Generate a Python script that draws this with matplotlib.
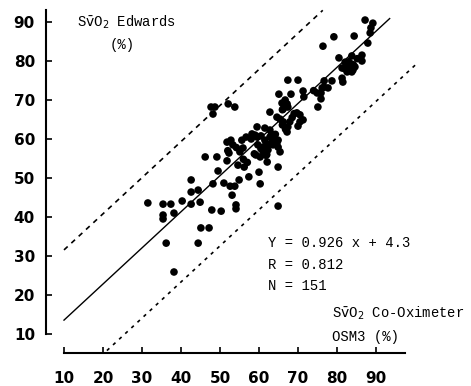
import matplotlib.pyplot as plt
import numpy as np

# SvO2 Co-Oximeter OSM3 (%) vs SvO2 Edwards (%)
osm3 = [31.5, 35.4, 37.4, 40.3, 42.6, 44.4, 42.6, 44.9, 35.4, 35.4, 38.2, 47.9, 50.3, 45.1, 47.2,
        36.2, 44.4, 38.2, 53.1, 54.1, 54.1, 64.9,
        42.6, 48.2, 51.0, 52.6, 53.8, 54.9, 57.4, 60.3, 49.5, 46.2, 49.2, 52.3, 51.8, 54.6, 56.2,
        60.0, 59.2, 60.3, 62.1, 61.0, 64.9,
        51.8, 52.8, 53.3, 55.6, 56.7, 58.2, 59.5, 59.5, 60.5, 61.5, 62.8, 62.8, 61.5, 63.6, 64.9,
        64.6, 62.3, 59.7, 62.3, 63.6, 64.9, 65.4, 55.9, 55.1,
        47.7, 48.7, 48.2, 52.1, 53.8, 62.8, 64.6, 65.4, 66.2, 67.9, 67.4, 67.2, 65.1, 68.2, 66.7,
        65.9, 67.2, 67.4, 66.2, 69.7, 70.5, 70.5, 70.0, 71.3, 71.3, 71.5, 74.9, 75.9, 75.9, 75.1,
        76.2, 76.7, 77.7,
        67.4, 70.0, 76.7, 78.7, 81.3, 81.5, 81.3, 82.8, 84.1, 82.6, 83.8, 86.4, 86.4, 83.8, 80.5,
        82.1, 83.3, 83.8, 84.6, 76.4, 79.2, 84.4, 87.2, 89.2, 88.7, 88.5, 87.9,
        59.0, 61.2, 63.0, 64.2, 58.0, 66.0, 83.0, 84.2, 82.0, 54.2, 57.0, 62.0, 66.0, 69.0, 52.0,
        60.5, 63.2, 85.2, 58.8, 61.8, 66.8, 68.5, 56.0, 74.0]
edwards = [43.6, 43.3, 43.3, 44.1, 46.4, 46.9, 43.3, 43.8, 40.5, 39.5, 41.0, 41.8, 41.5, 37.2, 37.2,
           33.3, 33.3, 25.9, 45.6, 43.1, 42.1, 42.8,
           49.5, 48.5, 48.7, 47.9, 47.9, 49.5, 50.3, 48.5, 51.8, 55.4, 55.4, 56.4, 54.4, 53.3, 52.8,
           51.5, 55.9, 55.4, 54.1, 56.9, 52.8,
           59.2, 59.7, 58.5, 59.7, 60.5, 61.3, 63.1, 60.5, 60.8, 62.8, 62.3, 60.5, 59.7, 59.7, 59.7,
           59.0, 58.5, 58.5, 57.2, 58.5, 57.9, 56.7, 57.7, 56.7,
           68.2, 68.2, 66.4, 69.0, 68.2, 66.9, 65.6, 65.1, 64.4, 64.4, 63.1, 61.8, 71.5, 71.5, 70.0,
           69.2, 69.0, 68.2, 67.7, 66.7, 66.2, 64.4, 63.3, 64.9, 72.3, 70.8, 71.8, 71.8, 70.3, 68.2,
           73.1, 73.3, 73.1,
           75.1, 75.1, 74.9, 74.9, 75.6, 74.6, 78.2, 79.0, 77.7, 77.2, 79.2, 80.0, 81.5, 81.3, 80.8,
           79.7, 78.2, 77.2, 78.5, 83.8, 86.2, 86.4, 90.5, 89.7, 88.5, 87.2, 84.6,
           61.0, 58.0, 58.8, 61.2, 60.0, 63.6, 79.8, 79.0, 78.0, 57.8, 54.0, 56.0, 67.5, 66.5, 57.0,
           57.5, 61.2, 80.6, 56.2, 55.8, 62.5, 65.5, 54.8, 72.4]

slope, intercept = 0.926, 4.3
band = 18.0
stats = ["Y = 0.926 x + 4.3", "R = 0.812", "N = 151"]
ticks = [10, 20, 30, 40, 50, 60, 70, 80, 90]

mono = ["Liberation Mono", "DejaVu Sans Mono"]

fig = plt.figure(figsize=(4.71, 3.86), dpi=100)
ax = fig.add_axes([25 / 471, 13 / 386, 429 / 471, 370.5 / 386])
ax.set_xlim(0, 110)
ax.set_ylim(0, 95)

ax.scatter(osm3, edwards, s=30, color="black", edgecolors="none", zorder=3)

# regression line and +/- band
xr = np.array([10, 93.5])
ax.plot(xr, slope * xr + intercept, color="black", lw=1.0)
xu = np.array([10, (93 - intercept - band) / slope])
ax.plot(xu, slope * xu + intercept + band, color="black", lw=1.2, ls=(0, (3, 3)))
xl = np.array([21, 100.5])
ax.plot(xl, slope * xl + intercept - band, color="black", lw=1.2, ls=(0, (2, 3)))

# detached axes
for s in ["top", "right"]:
    ax.spines[s].set_visible(False)
ax.spines["left"].set_position(("data", 5.4))
ax.spines["left"].set_bounds(10, 93)
ax.spines["bottom"].set_position(("data", 5.1))
ax.spines["bottom"].set_bounds(10, 97.4)
ax.spines["left"].set_linewidth(1.5)
ax.spines["bottom"].set_linewidth(1.5)

ax.set_xticks(ticks)
ax.set_yticks(ticks)
ax.tick_params(direction="in", length=4, width=1.2, labelsize=11)
ax.tick_params(axis="x", pad=13)
ax.tick_params(axis="y", pad=8)
for lab in ax.get_xticklabels() + ax.get_yticklabels():
    lab.set_fontweight("bold")
    lab.set_family(["Liberation Sans Narrow", "DejaVu Sans"])

ax.text(13.3, 90, r"S$\bar{\mathrm{v}}$O$_2$ Edwards", family=mono, fontsize=10, va="center")
ax.text(21.8, 84.1, "(%)", family=mono, fontsize=10, va="center")
for i, t in enumerate(stats):
    ax.text(62.3, 33.3 - 5.5 * i, t, family=mono, fontsize=10, va="center")
ax.text(78.7, 15.4, r"S$\bar{\mathrm{v}}$O$_2$ Co-Oximeter", family=mono, fontsize=10, va="center")
ax.text(78.7, 9.2, "OSM3 (%)", family=mono, fontsize=10, va="center")

fig.savefig("out.png", dpi=100)
